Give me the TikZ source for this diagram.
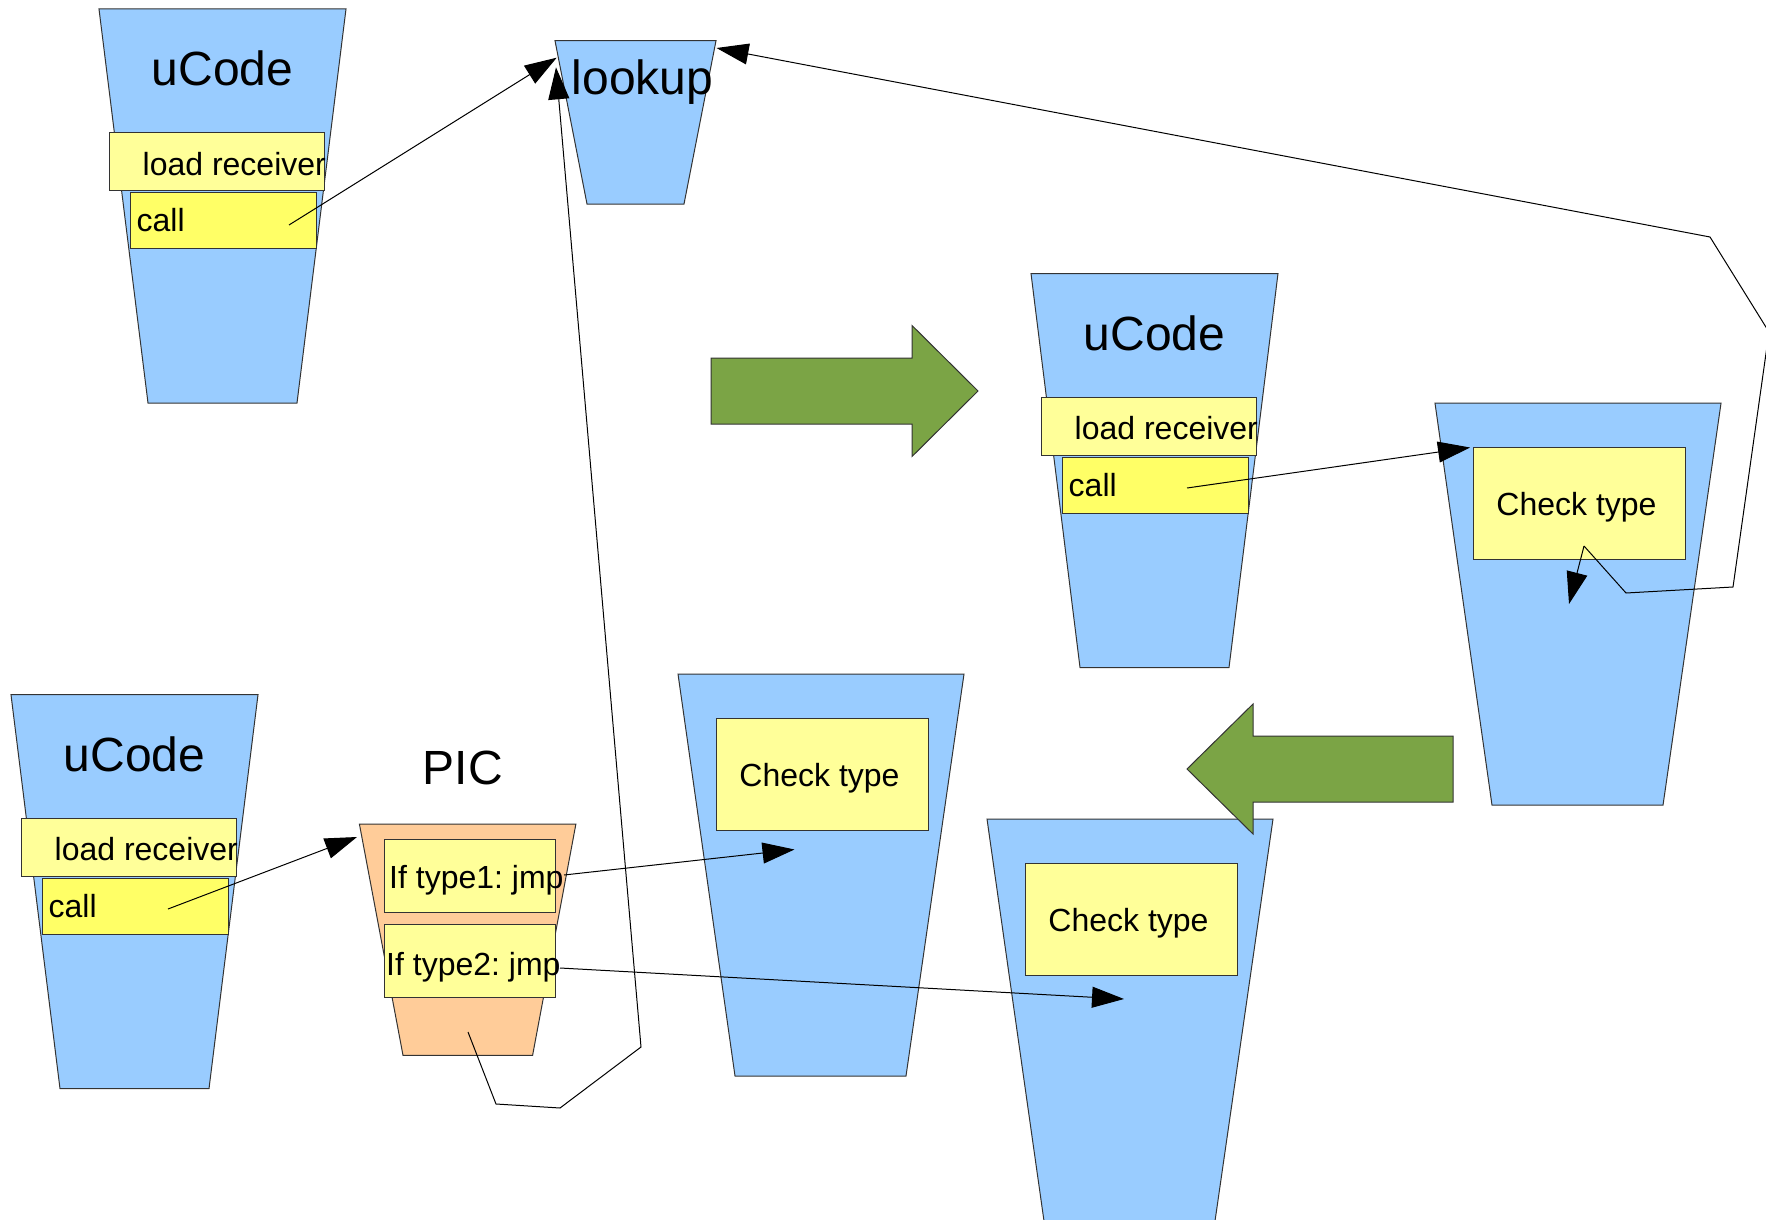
\documentclass[tikz,border=0pt]{standalone}
\usepackage{fontspec}
\setmainfont{Liberation Sans}
\usetikzlibrary{arrows.meta}

\definecolor{codeblue}{HTML}{99CCFF}
\definecolor{paleyellow}{HTML}{FFFF99}
\definecolor{callyellow}{HTML}{FFFF66}
\definecolor{picorange}{HTML}{FFCC99}
\definecolor{flowgreen}{HTML}{7BA445}
\definecolor{edge}{HTML}{333333}

\begin{document}
\frenchspacing
\begin{tikzpicture}[x=1pt, y=-1pt,
  trap/.style={draw=edge, line width=1pt, fill=codeblue},
  pictrap/.style={draw=edge, line width=1pt, fill=picorange},
  loadbox/.style={draw=edge, line width=1pt, fill=paleyellow, anchor=north west,
    inner sep=0pt, minimum width=215pt, minimum height=58pt},
  callbox/.style={draw=edge, line width=1pt, fill=callyellow, anchor=north west,
    inner sep=0pt, minimum width=186pt, minimum height=56pt},
  checkbox/.style={draw=edge, line width=1pt, fill=paleyellow, anchor=north west,
    inner sep=0pt, minimum width=212pt, minimum height=112pt},
  jmpbox/.style={draw=edge, line width=1pt, fill=paleyellow, anchor=north west,
    inner sep=0pt, minimum width=171pt, minimum height=73pt},
  bigtext/.style={font=\fontsize{48}{57}\selectfont, inner sep=0pt},
  smalltext/.style={font=\fontsize{32}{38}\selectfont, inner sep=0pt},
  link/.style={draw=black, line width=1pt, -{Triangle[length=32pt, width=21pt]}},
  bigarrow/.style={draw=edge, line width=1pt, fill=flowgreen}
]
\useasboundingbox (0,0) rectangle (1766,1220);

% ---- uCode stacks: trapezoid, "load receiver" and "call" slots ----
\foreach \X/\Y/\n in {99/9/ua, 1031/273.5/ub, 11/694.7/uc}{
  \path[trap] (\X,\Y) -- ({\X+247},\Y) -- ({\X+198},{\Y+394}) -- ({\X+49},{\Y+394}) -- cycle;
  \node[bigtext, anchor=base] (\n-title) at ({\X+123.5},{\Y+77}) {uCode};
  \node[loadbox] (\n-load) at ({\X+10},{\Y+123}) {};
  \node[smalltext, anchor=base west] (\n-loadtext) at ({\X+43.5},{\Y+166}) {load receiver};
  \node[callbox] (\n-call) at ({\X+31},{\Y+183}) {};
  \node[smalltext, anchor=base west] (\n-calltext) at ({\X+37.5},{\Y+222.7}) {call};
}

% ---- lookup routine ----
\path[trap] (555,40.7) -- (716,40.7) -- (684,204) -- (587,204) -- cycle;
\node[bigtext, anchor=base west] (lookup) at (571.5,94.5) {lookup};

% ---- "Check type" stubs ----
\foreach \X/\Y/\n in {1435/403.2/cr, 678/674/cm, 987/819/cs}{
  \path[trap] (\X,\Y) -- ({\X+286},\Y) -- ({\X+228},{\Y+402}) -- ({\X+57},{\Y+402}) -- cycle;
  \node[checkbox] (\n-box) at ({\X+38},{\Y+44}) {};
  \node[smalltext] (\n-text) at ([xshift=-3pt, yshift=-3.5pt]\n-box.center) {Check type};
}

% ---- PIC ----
\node[bigtext, anchor=base west] (pic) at (422.5,784.5) {PIC};
\path[pictrap] (359.4,824) -- (575.9,824) -- (532.6,1055.3) -- (403,1055.3) -- cycle;
\node[jmpbox] (jmp1) at (384,838.5) {};
\node[smalltext, anchor=base west] (jmp1-text) at (389,888.2) {If type1: jmp};
\node[jmpbox] (jmp2) at (384,924) {};
\node[smalltext, anchor=base west] (jmp2-text) at (386,975.7) {If type2: jmp};

% ---- big green transition arrows ----
\path[bigarrow] (711,358) -- (912,358) -- (912,325.5) -- (978,391) -- (912,456.5)
  -- (912,424) -- (711,424) -- cycle;
\path[bigarrow] (1453,736) -- (1253,736) -- (1253,704) -- (1187,769) -- (1253,834)
  -- (1253,802) -- (1453,802) -- cycle;

% ---- connector end points ----
\coordinate (ua-src) at (289,225);
\coordinate (lookup-in1) at (556.7,57.7);
\coordinate (lookup-in2) at (556,67.3);
\coordinate (lookup-in3) at (716.5,48);
\coordinate (uc-src) at (168,909);
\coordinate (pic-in) at (357,837);
\coordinate (jmp1-src) at (564,875);
\coordinate (cm-in) at (794.5,849.5);
\coordinate (jmp2-src) at (560,968);
\coordinate (cs-in) at (1124,999);
\coordinate (ub-src) at (1187,488);
\coordinate (cr-in) at (1470,447.5);
\coordinate (pic-miss) at (468,1032);
\coordinate (pm1) at (496,1104);
\coordinate (pm2) at (560,1108);
\coordinate (pm3) at (641,1047);
\coordinate (cr-miss) at (1584,546);
\coordinate (cr-next) at (1569,604);
\coordinate (cm1) at (1626,593);
\coordinate (cm2) at (1733,587);
\coordinate (cm3) at (1769,332);
\coordinate (cm4) at (1710,237);

% ---- connectors ----
\draw[link] (ua-src) -- (lookup-in1);
\draw[link] (uc-src) -- (pic-in);
\draw[link] (jmp1-src) -- (cm-in);
\draw[link] (jmp2-src) -- (cs-in);
\draw[link] (ub-src) -- (cr-in);
\draw[link] (pic-miss) -- (pm1) -- (pm2) -- (pm3) -- (lookup-in2);
\draw[link] (cr-miss) -- (cr-next);
\draw[link] (cr-miss) -- (cm1) -- (cm2) -- (cm3) -- (cm4) -- (lookup-in3);
\end{tikzpicture}
\end{document}
